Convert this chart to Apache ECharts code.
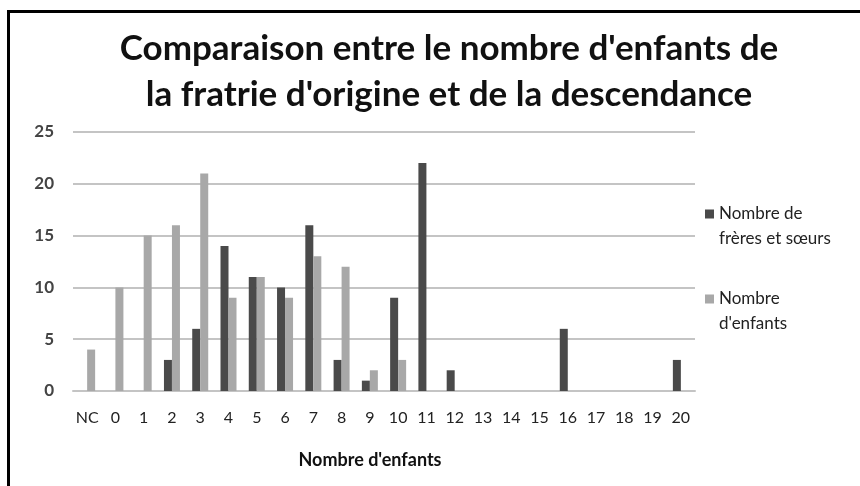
<!DOCTYPE html>
<html>
<head>
<meta charset="utf-8">
<script src="https://cdn.jsdelivr.net/npm/echarts@6/dist/echarts.min.js"></script>
<style>
  html, body { margin: 0; padding: 0; background: #fff; }
  #chart { width: 860px; height: 486px; }
</style>
</head>
<body>
<div id="chart"></div>
<script>
// categories on the x axis
const categories = ['NC', '0', '1', '2', '3', '4', '5', '6', '7', '8', '9', '10',
  '11', '12', '13', '14', '15', '16', '17', '18', '19', '20'];
// Nombre de frères et sœurs
const freresSoeurs = [0, 0, 0, 3, 6, 14, 11, 10, 16, 3, 1, 9, 22, 2, 0, 0, 0, 6, 0, 0, 0, 3];
// Nombre d'enfants
const enfants = [4, 10, 15, 16, 21, 9, 11, 9, 13, 12, 2, 3, 0, 0, 0, 0, 0, 0, 0, 0, 0, 0];

const chart = echarts.init(document.getElementById('chart'));

// square on top, tiny dot below so the square lines up with the first text line
const legendIcon = 'path://M0,0h10v10h-10z M9.9,36.6h0.1v0.1h-0.1z';

const option = {
  backgroundColor: '#fff',
  animation: false,
  title: {
    text: "Comparaison entre le nombre d'enfants de\nla fratrie d'origine et de la descendance",
    left: 444,
    textAlign: 'center',
    top: 21,
    textStyle: {
      fontFamily: 'Lato',
      fontWeight: 'bold',
      fontSize: 35,
      lineHeight: 46,
      color: '#111'
    }
  },
  legend: {
    orient: 'vertical',
    left: 700,
    top: 196,
    itemWidth: 9,
    itemHeight: 33,
    itemGap: 35,
    icon: legendIcon,
    data: ['Nombre de\nfrères et sœurs', "Nombre\nd'enfants"],
    textStyle: {
      fontFamily: 'Lato',
      fontSize: 17,
      lineHeight: 25,
      color: '#222'
    }
  },
  grid: {
    left: 73,
    right: 165,
    top: 132,
    bottom: 95,
    containLabel: false
  },
  xAxis: {
    type: 'category',
    data: categories,
    name: "Nombre d'enfants",
    nameLocation: 'middle',
    nameGap: 60,
    nameTextStyle: {
      fontFamily: 'Lato',
      fontWeight: 'bold',
      fontSize: 18,
      color: '#111',
      padding: [0, 28, 0, 0]
    },
    axisLine: { lineStyle: { color: '#c4c4c4', width: 2 } },
    axisTick: { show: false },
    axisLabel: {
      interval: 0,
      margin: 19,
      fontFamily: 'Lato',
      fontSize: 16,
      color: '#222'
    }
  },
  yAxis: {
    type: 'value',
    min: 0,
    max: 25,
    interval: 5,
    axisLine: { show: false },
    axisTick: { show: false },
    axisLabel: {
      margin: 19,
      fontFamily: 'Lato',
      fontWeight: 'bold',
      fontSize: 17,
      color: '#444'
    },
    splitLine: { lineStyle: { color: '#c4c4c4', width: 2 } }
  },
  series: [
    {
      name: 'Nombre de\nfrères et sœurs',
      type: 'bar',
      data: freresSoeurs,
      barWidth: 8,
      barGap: '0%',
      itemStyle: { color: '#4a4a4a' }
    },
    {
      name: "Nombre\nd'enfants",
      type: 'bar',
      data: enfants,
      barWidth: 8,
      itemStyle: { color: '#a8a8a8' }
    }
  ],
  graphic: [
    {
      type: 'group',
      silent: true,
      children: [
        { type: 'rect', shape: { x: 7, y: 10, width: 860, height: 3 }, style: { fill: '#000' } },
        { type: 'rect', shape: { x: 7, y: 10, width: 3, height: 480 }, style: { fill: '#000' } }
      ]
    }
  ]
};

chart.setOption(option);
</script>
</body>
</html>
